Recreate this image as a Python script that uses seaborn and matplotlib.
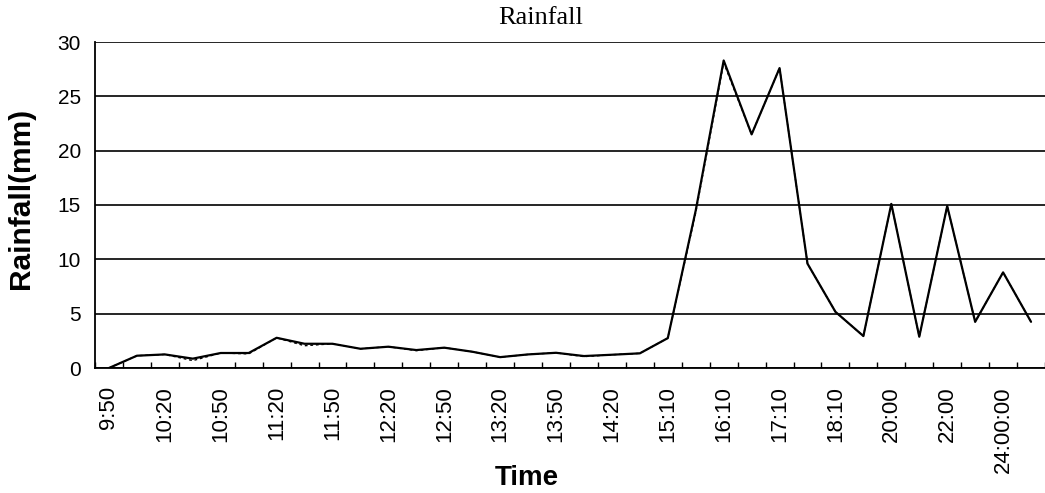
import numpy as np
import pandas as pd
import matplotlib
matplotlib.use("Agg")
import matplotlib.pyplot as plt
import seaborn as sns

times = ["9:50", "10:05", "10:20", "10:35", "10:50", "11:05", "11:20", "11:35",
         "11:50", "12:05", "12:20", "12:35", "12:50", "13:05", "13:20", "13:35",
         "13:50", "14:05", "14:20", "14:45", "15:10", "15:40", "16:10", "16:40",
         "17:10", "17:40", "18:10", "19:00", "20:00", "21:00", "22:00", "23:00",
         "24:00:00", "1:00:00"]
rain_solid = [0.0, 1.13, 1.25, 0.86, 1.38, 1.38, 2.78, 2.23, 2.23, 1.77, 1.96, 1.65,
              1.87, 1.5, 1.0, 1.25, 1.4, 1.1, 1.22, 1.35, 2.75, 14.5, 28.3, 21.5,
              27.6, 9.6, 5.17, 2.94, 15.1, 2.88, 14.9, 4.25, 8.8, 4.25]
rain_dashed = [0.0, 1.13, 1.25, 0.68, 1.38, 1.3, 2.78, 2.05, 2.23, 1.77, 1.96, 1.6,
               1.87, 1.5, 1.0, 1.25, 1.4, 1.05, 1.22, 1.35, 2.75, 14.3, 28.1, 21.5,
               27.6, 9.6, 5.17, 2.94, 15.1, 2.88, 14.9, 4.25, 8.8, 4.25]
y_ticks = [0, 5, 10, 15, 20, 25, 30]

df = pd.DataFrame({
    "time": times * 2,
    "rain": rain_solid + rain_dashed,
    "series": ["a"] * len(times) + ["b"] * len(times),
})

sns.set_theme(style="white")
plt.rcParams["font.family"] = ["Liberation Sans", "DejaVu Sans"]
plt.rcParams.update({"text.color": "black", "axes.labelcolor": "black",
                     "xtick.color": "black", "ytick.color": "black"})

W, H = 1045, 493
fig = plt.figure(figsize=(W / 100, H / 100), dpi=100)
ax = fig.add_axes([95 / W, 1 - 368 / H, 1 - 95 / W, (368 - 42) / H])

sns.lineplot(data=df, x="time", y="rain", hue="series", style="series",
             palette=["black", "black"], dashes=[(None, None), (2, 2)],
             sort=False, legend=False, ax=ax, zorder=3)
for ln, lw in zip(ax.lines, [1.6, 1.0]):
    ln.set_linewidth(lw)

ax.set_ylim(0, 30)
ax.set_yticks(y_ticks)
ax.set_xlim(-0.5, len(times) - 0.5)
ax.set_xticks(range(0, len(times), 2))
ax.set_xticklabels([times[i] for i in range(0, len(times), 2)], rotation=90)
ax.set_xticks(np.arange(-0.5, len(times), 1), minor=True)
ax.tick_params(axis="x", which="major", length=0, labelsize=16, pad=13)
ax.tick_params(axis="x", which="minor", direction="in", length=4, width=1, color="black", bottom=True)
ax.tick_params(axis="y", length=0, labelsize=15, pad=10)

ax.yaxis.grid(True, color="black", linewidth=1.2)
ax.xaxis.grid(False)
for s in ["top", "right"]:
    ax.spines[s].set_visible(False)
for s in ["left", "bottom"]:
    ax.spines[s].set_color("black")
    ax.spines[s].set_linewidth(1.3)

ax.set_xlabel("Time", fontsize=20, fontweight="bold")
ax.set_ylabel("Rainfall(mm)", fontsize=21.5, fontweight="bold")
ax.xaxis.set_label_coords((527 - 95) / 950, (368 - 465) / 326)
ax.yaxis.set_label_coords((35 - 95) / 950, (368 - 198) / 326)
fig.text(541 / W, 1 - 18 / H, "Rainfall", ha="center", va="center",
         fontsize=19, family="Liberation Serif", color="black")

fig.savefig("out.png", dpi=100)
